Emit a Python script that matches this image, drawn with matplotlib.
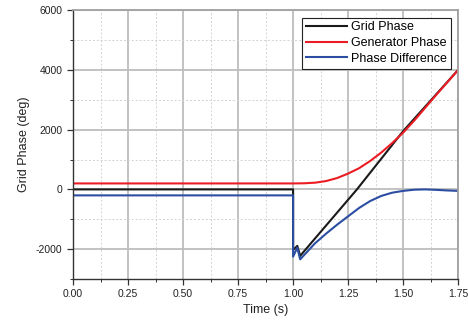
import numpy as np
import matplotlib
matplotlib.use("Agg")
import matplotlib.pyplot as plt
from matplotlib.ticker import MultipleLocator

plt.rcParams['font.family'] = ['Liberation Sans', 'DejaVu Sans']
plt.rcParams['axes.unicode_minus'] = False

# ---- data ----
grid_t = [0.0, 1.0, 1.0, 1.019, 1.032, 1.29, 1.5, 1.75]
grid_deg = [0, 0, -2030, -1890, -2225, 0, 1950, 4000]

gen_t = [0.0, 1.0, 1.05, 1.1, 1.15, 1.2, 1.25, 1.3, 1.35, 1.4, 1.45, 1.5,
         1.55, 1.6, 1.65, 1.7, 1.75]
gen_deg = [200, 200, 205, 225, 280, 380, 530, 710, 950, 1230, 1550, 1900,
           2300, 2730, 3160, 3580, 4000]

diff_t = [0.0, 1.0, 1.0, 1.019, 1.032, 1.1, 1.15, 1.2, 1.25, 1.3, 1.35, 1.4,
          1.45, 1.5, 1.55, 1.6, 1.65, 1.7, 1.75]
diff_deg = [-200, -200, -2250, -1950, -2340, -1800, -1480, -1180, -900, -620,
            -390, -220, -110, -50, -10, 0, -15, -35, -50]

x_ticks = [0.0, 0.25, 0.5, 0.75, 1.0, 1.25, 1.5, 1.75]
y_ticks = [-2000, 0, 2000, 4000, 6000]

# ---- figure ----
fig = plt.figure(figsize=(4.68, 3.26), dpi=100)
ax = fig.add_axes([0.156, 0.144, 0.823, 0.825])

ax.plot(grid_t, grid_deg, color='#1a1a1a', lw=1.5, label='Grid Phase')
ax.plot(gen_t, gen_deg, color='#ec1c24', lw=1.5, label='Generator Phase')
ax.plot(diff_t, diff_deg, color='#2b4ea3', lw=1.5, label='Phase Difference')

ax.set_xlim(0, 1.75)
ax.set_ylim(-3000, 6000)
ax.set_xticks(x_ticks)
ax.set_xticklabels([f'{v:.2f}' for v in x_ticks])
ax.set_yticks(y_ticks)
ax.xaxis.set_minor_locator(MultipleLocator(0.125))
ax.yaxis.set_minor_locator(MultipleLocator(1000))

ax.grid(True, which='major', color='#bdbdbd', lw=1.3)
ax.grid(True, which='minor', color='#d2d2d2', lw=0.7, ls=(0, (2, 2)))
ax.set_axisbelow(True)

for s in ['left', 'bottom']:
    ax.spines[s].set_color('#333333')
    ax.spines[s].set_linewidth(1.0)
for s in ['top', 'right']:
    ax.spines[s].set_color('#a0a0a0')
    ax.spines[s].set_linewidth(1.3)

ax.tick_params(which='major', direction='out', length=4, width=0.9,
               color='#333333', labelsize=7.5, labelcolor='#222222')
ax.tick_params(which='minor', direction='out', length=2, width=0.7,
               color='#333333')
ax.tick_params(top=False, right=False, which='both')

ax.set_xlabel('Time (s)', fontsize=9, color='#222222', labelpad=3)
ax.set_ylabel('Grid Phase (deg)', fontsize=9, color='#222222', labelpad=4)

leg = ax.legend(loc='upper right', fontsize=9, frameon=True, fancybox=False,
                edgecolor='#222222', framealpha=1, borderpad=0.3,
                labelspacing=0.3, handlelength=3.3, handletextpad=0.3,
                borderaxespad=0.6)
leg.get_frame().set_linewidth(0.8)

fig.savefig('out.png', dpi=100)
